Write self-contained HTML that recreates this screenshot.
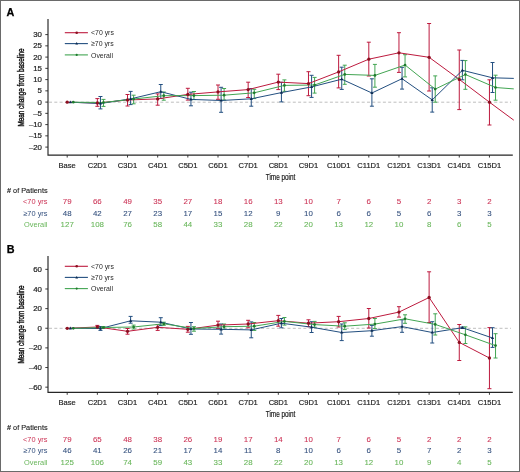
<!DOCTYPE html>
<html><head><meta charset="utf-8"><style>
html,body{margin:0;padding:0;background:#fff;}
body{width:520px;height:472px;overflow:hidden;}
svg{display:block;will-change:transform;}
</style></head><body>
<svg width="520" height="472" viewBox="0 0 520 472">
<rect x="0" y="0" width="520" height="472" fill="#fff"/>
<text x="6.5" y="15.7" font-size="10.8" font-weight="bold" fill="#000" stroke="#000" stroke-width="0.25" font-family="'Liberation Sans', sans-serif">A</text>
<line x1="49" y1="102.2" x2="511" y2="102.2" stroke="#a8a8a8" stroke-width="0.75" stroke-dasharray="3 2.3"/>
<path d="M48 19.1V155.15H512.8" stroke="#262626" stroke-width="1.15" fill="none"/>
<line x1="45.3" y1="34.6" x2="48" y2="34.6" stroke="#262626" stroke-width="0.9"/>
<text x="0" y="0" font-size="7.5" text-anchor="end" fill="#222" stroke="#222" stroke-width="0.2" font-family="'Liberation Sans', sans-serif" transform="translate(42 37.2) scale(1.05 1)">30</text>
<line x1="45.3" y1="45.85" x2="48" y2="45.85" stroke="#262626" stroke-width="0.9"/>
<text x="0" y="0" font-size="7.5" text-anchor="end" fill="#222" stroke="#222" stroke-width="0.2" font-family="'Liberation Sans', sans-serif" transform="translate(42 48.45) scale(1.05 1)">25</text>
<line x1="45.3" y1="57.1" x2="48" y2="57.1" stroke="#262626" stroke-width="0.9"/>
<text x="0" y="0" font-size="7.5" text-anchor="end" fill="#222" stroke="#222" stroke-width="0.2" font-family="'Liberation Sans', sans-serif" transform="translate(42 59.7) scale(1.05 1)">20</text>
<line x1="45.3" y1="68.35" x2="48" y2="68.35" stroke="#262626" stroke-width="0.9"/>
<text x="0" y="0" font-size="7.5" text-anchor="end" fill="#222" stroke="#222" stroke-width="0.2" font-family="'Liberation Sans', sans-serif" transform="translate(42 70.95) scale(1.05 1)">15</text>
<line x1="45.3" y1="79.6" x2="48" y2="79.6" stroke="#262626" stroke-width="0.9"/>
<text x="0" y="0" font-size="7.5" text-anchor="end" fill="#222" stroke="#222" stroke-width="0.2" font-family="'Liberation Sans', sans-serif" transform="translate(42 82.2) scale(1.05 1)">10</text>
<line x1="45.3" y1="90.85" x2="48" y2="90.85" stroke="#262626" stroke-width="0.9"/>
<text x="0" y="0" font-size="7.5" text-anchor="end" fill="#222" stroke="#222" stroke-width="0.2" font-family="'Liberation Sans', sans-serif" transform="translate(42 93.45) scale(1.05 1)">5</text>
<line x1="45.3" y1="102.1" x2="48" y2="102.1" stroke="#262626" stroke-width="0.9"/>
<text x="0" y="0" font-size="7.5" text-anchor="end" fill="#222" stroke="#222" stroke-width="0.2" font-family="'Liberation Sans', sans-serif" transform="translate(42 104.7) scale(1.05 1)">0</text>
<line x1="45.3" y1="113.35" x2="48" y2="113.35" stroke="#262626" stroke-width="0.9"/>
<text x="0" y="0" font-size="7.5" text-anchor="end" fill="#222" stroke="#222" stroke-width="0.2" font-family="'Liberation Sans', sans-serif" transform="translate(42 115.95) scale(1.05 1)">–5</text>
<line x1="45.3" y1="124.6" x2="48" y2="124.6" stroke="#262626" stroke-width="0.9"/>
<text x="0" y="0" font-size="7.5" text-anchor="end" fill="#222" stroke="#222" stroke-width="0.2" font-family="'Liberation Sans', sans-serif" transform="translate(42 127.2) scale(1.05 1)">–10</text>
<line x1="45.3" y1="135.85" x2="48" y2="135.85" stroke="#262626" stroke-width="0.9"/>
<text x="0" y="0" font-size="7.5" text-anchor="end" fill="#222" stroke="#222" stroke-width="0.2" font-family="'Liberation Sans', sans-serif" transform="translate(42 138.45) scale(1.05 1)">–15</text>
<line x1="45.3" y1="147.1" x2="48" y2="147.1" stroke="#262626" stroke-width="0.9"/>
<text x="0" y="0" font-size="7.5" text-anchor="end" fill="#222" stroke="#222" stroke-width="0.2" font-family="'Liberation Sans', sans-serif" transform="translate(42 149.7) scale(1.05 1)">–20</text>
<line x1="67.2" y1="155.15" x2="67.2" y2="157.55" stroke="#262626" stroke-width="0.9"/>
<text x="0" y="0" font-size="7.8" text-anchor="middle" fill="#222" stroke="#222" stroke-width="0.18" font-family="'Liberation Sans', sans-serif" transform="translate(67.2 167.5) scale(0.97 1)">Base</text>
<line x1="97.36" y1="155.15" x2="97.36" y2="157.55" stroke="#262626" stroke-width="0.9"/>
<text x="0" y="0" font-size="7.8" text-anchor="middle" fill="#222" stroke="#222" stroke-width="0.18" font-family="'Liberation Sans', sans-serif" transform="translate(97.36 167.5) scale(0.97 1)">C2D1</text>
<line x1="127.52" y1="155.15" x2="127.52" y2="157.55" stroke="#262626" stroke-width="0.9"/>
<text x="0" y="0" font-size="7.8" text-anchor="middle" fill="#222" stroke="#222" stroke-width="0.18" font-family="'Liberation Sans', sans-serif" transform="translate(127.52 167.5) scale(0.97 1)">C3D1</text>
<line x1="157.68" y1="155.15" x2="157.68" y2="157.55" stroke="#262626" stroke-width="0.9"/>
<text x="0" y="0" font-size="7.8" text-anchor="middle" fill="#222" stroke="#222" stroke-width="0.18" font-family="'Liberation Sans', sans-serif" transform="translate(157.68 167.5) scale(0.97 1)">C4D1</text>
<line x1="187.84" y1="155.15" x2="187.84" y2="157.55" stroke="#262626" stroke-width="0.9"/>
<text x="0" y="0" font-size="7.8" text-anchor="middle" fill="#222" stroke="#222" stroke-width="0.18" font-family="'Liberation Sans', sans-serif" transform="translate(187.84 167.5) scale(0.97 1)">C5D1</text>
<line x1="218" y1="155.15" x2="218" y2="157.55" stroke="#262626" stroke-width="0.9"/>
<text x="0" y="0" font-size="7.8" text-anchor="middle" fill="#222" stroke="#222" stroke-width="0.18" font-family="'Liberation Sans', sans-serif" transform="translate(218 167.5) scale(0.97 1)">C6D1</text>
<line x1="248.16" y1="155.15" x2="248.16" y2="157.55" stroke="#262626" stroke-width="0.9"/>
<text x="0" y="0" font-size="7.8" text-anchor="middle" fill="#222" stroke="#222" stroke-width="0.18" font-family="'Liberation Sans', sans-serif" transform="translate(248.16 167.5) scale(0.97 1)">C7D1</text>
<line x1="278.32" y1="155.15" x2="278.32" y2="157.55" stroke="#262626" stroke-width="0.9"/>
<text x="0" y="0" font-size="7.8" text-anchor="middle" fill="#222" stroke="#222" stroke-width="0.18" font-family="'Liberation Sans', sans-serif" transform="translate(278.32 167.5) scale(0.97 1)">C8D1</text>
<line x1="308.48" y1="155.15" x2="308.48" y2="157.55" stroke="#262626" stroke-width="0.9"/>
<text x="0" y="0" font-size="7.8" text-anchor="middle" fill="#222" stroke="#222" stroke-width="0.18" font-family="'Liberation Sans', sans-serif" transform="translate(308.48 167.5) scale(0.97 1)">C9D1</text>
<line x1="338.64" y1="155.15" x2="338.64" y2="157.55" stroke="#262626" stroke-width="0.9"/>
<text x="0" y="0" font-size="7.8" text-anchor="middle" fill="#222" stroke="#222" stroke-width="0.18" font-family="'Liberation Sans', sans-serif" transform="translate(338.64 167.5) scale(0.97 1)">C10D1</text>
<line x1="368.8" y1="155.15" x2="368.8" y2="157.55" stroke="#262626" stroke-width="0.9"/>
<text x="0" y="0" font-size="7.8" text-anchor="middle" fill="#222" stroke="#222" stroke-width="0.18" font-family="'Liberation Sans', sans-serif" transform="translate(368.8 167.5) scale(0.97 1)">C11D1</text>
<line x1="398.96" y1="155.15" x2="398.96" y2="157.55" stroke="#262626" stroke-width="0.9"/>
<text x="0" y="0" font-size="7.8" text-anchor="middle" fill="#222" stroke="#222" stroke-width="0.18" font-family="'Liberation Sans', sans-serif" transform="translate(398.96 167.5) scale(0.97 1)">C12D1</text>
<line x1="429.12" y1="155.15" x2="429.12" y2="157.55" stroke="#262626" stroke-width="0.9"/>
<text x="0" y="0" font-size="7.8" text-anchor="middle" fill="#222" stroke="#222" stroke-width="0.18" font-family="'Liberation Sans', sans-serif" transform="translate(429.12 167.5) scale(0.97 1)">C13D1</text>
<line x1="459.28" y1="155.15" x2="459.28" y2="157.55" stroke="#262626" stroke-width="0.9"/>
<text x="0" y="0" font-size="7.8" text-anchor="middle" fill="#222" stroke="#222" stroke-width="0.18" font-family="'Liberation Sans', sans-serif" transform="translate(459.28 167.5) scale(0.97 1)">C14D1</text>
<line x1="489.44" y1="155.15" x2="489.44" y2="157.55" stroke="#262626" stroke-width="0.9"/>
<text x="0" y="0" font-size="7.8" text-anchor="middle" fill="#222" stroke="#222" stroke-width="0.18" font-family="'Liberation Sans', sans-serif" transform="translate(489.44 167.5) scale(0.97 1)">C15D1</text>
<text x="0" y="0" font-size="8.6" text-anchor="middle" fill="#1a1a1a" font-family="'Liberation Sans', sans-serif" stroke="#1a1a1a" stroke-width="0.2" transform="translate(280.5 180.3) scale(0.74 1)">Time point</text>
<text x="0" y="0" font-size="8.3" text-anchor="middle" fill="#111" font-family="'Liberation Sans', sans-serif" stroke="#111" stroke-width="0.4" transform="translate(23.5 87.5) rotate(-90) scale(0.765 1)">Mean change from baseline</text>
<line x1="64.8" y1="32.7" x2="87.9" y2="32.7" stroke="#bd1a3e" stroke-width="1.1"/>
<circle cx="76.7" cy="32.7" r="1.3" fill="#8c0f20"/>
<text x="0" y="0" font-size="7.7" fill="#2a2a2a" font-family="'Liberation Sans', sans-serif" transform="translate(91 35.4) scale(0.9 1)">&lt;70 yrs</text>
<line x1="64.8" y1="43.6" x2="87.9" y2="43.6" stroke="#234f80" stroke-width="1.1"/>
<path d="M76.7 42.1L78.1 44.6L75.3 44.6Z" fill="#0d2c52"/>
<text x="0" y="0" font-size="7.7" fill="#2a2a2a" font-family="'Liberation Sans', sans-serif" transform="translate(91 46.3) scale(0.9 1)">≥70 yrs</text>
<line x1="64.8" y1="54.9" x2="87.9" y2="54.9" stroke="#42a552" stroke-width="1.1"/>
<circle cx="76.7" cy="54.9" r="1.1" fill="#1e7a2c"/>
<text x="0" y="0" font-size="7.7" fill="#2a2a2a" font-family="'Liberation Sans', sans-serif" transform="translate(91 57.6) scale(0.9 1)">Overall</text>
<path d="M97.36 98.6V106.3M95.36 98.6H99.36M95.36 106.3H99.36" stroke="#bd1a3e" stroke-width="1" fill="none"/>
<path d="M127.52 94.5V106M125.52 94.5H129.52M125.52 106H129.52" stroke="#bd1a3e" stroke-width="1" fill="none"/>
<path d="M157.68 93.9V105.2M155.68 93.9H159.68M155.68 105.2H159.68" stroke="#bd1a3e" stroke-width="1" fill="none"/>
<path d="M187.84 88.3V100.1M185.84 88.3H189.84M185.84 100.1H189.84" stroke="#bd1a3e" stroke-width="1" fill="none"/>
<path d="M218 85V99.3M216 85H220M216 99.3H220" stroke="#bd1a3e" stroke-width="1" fill="none"/>
<path d="M248.16 82.2V97.5M246.16 82.2H250.16M246.16 97.5H250.16" stroke="#bd1a3e" stroke-width="1" fill="none"/>
<path d="M278.32 74.2V89.6M276.32 74.2H280.32M276.32 89.6H280.32" stroke="#bd1a3e" stroke-width="1" fill="none"/>
<path d="M308.48 71.7V95.7M306.48 71.7H310.48M306.48 95.7H310.48" stroke="#bd1a3e" stroke-width="1" fill="none"/>
<path d="M338.64 55.3V87.9M336.64 55.3H340.64M336.64 87.9H340.64" stroke="#bd1a3e" stroke-width="1" fill="none"/>
<path d="M368.8 42.2V76M366.8 42.2H370.8M366.8 76H370.8" stroke="#bd1a3e" stroke-width="1" fill="none"/>
<path d="M398.96 32.7V72.4M396.96 32.7H400.96M396.96 72.4H400.96" stroke="#bd1a3e" stroke-width="1" fill="none"/>
<path d="M429.12 23.5V91M427.12 23.5H431.12M427.12 91H431.12" stroke="#bd1a3e" stroke-width="1" fill="none"/>
<path d="M459.28 50V109.6M457.28 50H461.28M457.28 109.6H461.28" stroke="#bd1a3e" stroke-width="1" fill="none"/>
<path d="M489.44 79.8V125M487.44 79.8H491.44M487.44 125H491.44" stroke="#bd1a3e" stroke-width="1" fill="none"/>
<path d="M100.46 96.5V108.9M98.46 96.5H102.46M98.46 108.9H102.46" stroke="#234f80" stroke-width="1" fill="none"/>
<path d="M130.62 91.4V104.6M128.62 91.4H132.62M128.62 104.6H132.62" stroke="#234f80" stroke-width="1" fill="none"/>
<path d="M160.78 84.5V98.5M158.78 84.5H162.78M158.78 98.5H162.78" stroke="#234f80" stroke-width="1" fill="none"/>
<path d="M190.94 92.2V105.8M188.94 92.2H192.94M188.94 105.8H192.94" stroke="#234f80" stroke-width="1" fill="none"/>
<path d="M221.1 87.3V112.3M219.1 87.3H223.1M219.1 112.3H223.1" stroke="#234f80" stroke-width="1" fill="none"/>
<path d="M251.26 88.5V106.2M249.26 88.5H253.26M249.26 106.2H253.26" stroke="#234f80" stroke-width="1" fill="none"/>
<path d="M281.42 82.3V101.9M279.42 82.3H283.42M279.42 101.9H283.42" stroke="#234f80" stroke-width="1" fill="none"/>
<path d="M311.58 75.3V97.4M309.58 75.3H313.58M309.58 97.4H313.58" stroke="#234f80" stroke-width="1" fill="none"/>
<path d="M341.74 67.2V89.4M339.74 67.2H343.74M339.74 89.4H343.74" stroke="#234f80" stroke-width="1" fill="none"/>
<path d="M371.9 78.8V106.2M369.9 78.8H373.9M369.9 106.2H373.9" stroke="#234f80" stroke-width="1" fill="none"/>
<path d="M402.06 67.3V89.1M400.06 67.3H404.06M400.06 89.1H404.06" stroke="#234f80" stroke-width="1" fill="none"/>
<path d="M432.22 87.8V112.1M430.22 87.8H434.22M430.22 112.1H434.22" stroke="#234f80" stroke-width="1" fill="none"/>
<path d="M462.38 60.4V79.8M460.38 60.4H464.38M460.38 79.8H464.38" stroke="#234f80" stroke-width="1" fill="none"/>
<path d="M492.54 62.5V92.5M490.54 62.5H494.54M490.54 92.5H494.54" stroke="#234f80" stroke-width="1" fill="none"/>
<path d="M103.46 99.4V106.4M101.46 99.4H105.46M101.46 106.4H105.46" stroke="#42a552" stroke-width="1" fill="none"/>
<path d="M133.62 95.2V103.8M131.62 95.2H135.62M131.62 103.8H135.62" stroke="#42a552" stroke-width="1" fill="none"/>
<path d="M163.78 92V100.2M161.78 92H165.78M161.78 100.2H165.78" stroke="#42a552" stroke-width="1" fill="none"/>
<path d="M193.94 91.5V99.6M191.94 91.5H195.94M191.94 99.6H195.94" stroke="#42a552" stroke-width="1" fill="none"/>
<path d="M224.1 88.5V100M222.1 88.5H226.1M222.1 100H226.1" stroke="#42a552" stroke-width="1" fill="none"/>
<path d="M254.26 89.3V98.6M252.26 89.3H256.26M252.26 98.6H256.26" stroke="#42a552" stroke-width="1" fill="none"/>
<path d="M284.42 79.9V91.3M282.42 79.9H286.42M282.42 91.3H286.42" stroke="#42a552" stroke-width="1" fill="none"/>
<path d="M314.58 77.4V93.1M312.58 77.4H316.58M312.58 93.1H316.58" stroke="#42a552" stroke-width="1" fill="none"/>
<path d="M344.74 65.2V84.3M342.74 65.2H346.74M342.74 84.3H346.74" stroke="#42a552" stroke-width="1" fill="none"/>
<path d="M374.9 64.4V87.2M372.9 64.4H376.9M372.9 87.2H376.9" stroke="#42a552" stroke-width="1" fill="none"/>
<path d="M405.06 54.7V76.9M403.06 54.7H407.06M403.06 76.9H407.06" stroke="#42a552" stroke-width="1" fill="none"/>
<path d="M435.22 75.9V102.2M433.22 75.9H437.22M433.22 102.2H437.22" stroke="#42a552" stroke-width="1" fill="none"/>
<path d="M465.38 60.6V89.3M463.38 60.6H467.38M463.38 89.3H467.38" stroke="#42a552" stroke-width="1" fill="none"/>
<path d="M495.54 75.2V100.2M493.54 75.2H497.54M493.54 100.2H497.54" stroke="#42a552" stroke-width="1" fill="none"/>
<path d="M67.2 102.2 L97.36 103 L127.52 100 L157.68 98.9 L187.84 94.4 L218 91.9 L248.16 89.6 L278.32 82.1 L308.48 83.6 L338.64 71.9 L368.8 59.2 L398.96 52.8 L429.12 57.3 L459.28 79.4 L489.44 102.2 L513.8 120.2" stroke="#bd1a3e" stroke-width="1.0" fill="none" stroke-linejoin="round"/>
<path d="M70.3 102.2 L100.46 103.5 L130.62 98.9 L160.78 91.7 L190.94 99.4 L221.1 100.5 L251.26 98.8 L281.42 92.6 L311.58 86.9 L341.74 79.2 L371.9 93 L402.06 78.7 L432.22 99.9 L462.38 70.3 L492.54 77.8 L513.8 78.4" stroke="#234f80" stroke-width="1.0" fill="none" stroke-linejoin="round"/>
<path d="M73.3 102.2 L103.46 102.5 L133.62 99 L163.78 95.7 L193.94 95.6 L224.1 95.2 L254.26 92.8 L284.42 85.4 L314.58 85 L344.74 74.4 L374.9 75.4 L405.06 65 L435.22 89.1 L465.38 74.5 L495.54 87.5 L513.8 88.9" stroke="#42a552" stroke-width="1.0" fill="none" stroke-linejoin="round"/>
<circle cx="67.2" cy="102.2" r="1.65" fill="#8c0f20"/>
<circle cx="97.36" cy="103" r="1.65" fill="#8c0f20"/>
<circle cx="127.52" cy="100" r="1.65" fill="#8c0f20"/>
<circle cx="157.68" cy="98.9" r="1.65" fill="#8c0f20"/>
<circle cx="187.84" cy="94.4" r="1.65" fill="#8c0f20"/>
<circle cx="218" cy="91.9" r="1.65" fill="#8c0f20"/>
<circle cx="248.16" cy="89.6" r="1.65" fill="#8c0f20"/>
<circle cx="278.32" cy="82.1" r="1.65" fill="#8c0f20"/>
<circle cx="308.48" cy="83.6" r="1.65" fill="#8c0f20"/>
<circle cx="338.64" cy="71.9" r="1.65" fill="#8c0f20"/>
<circle cx="368.8" cy="59.2" r="1.65" fill="#8c0f20"/>
<circle cx="398.96" cy="52.8" r="1.65" fill="#8c0f20"/>
<circle cx="429.12" cy="57.3" r="1.65" fill="#8c0f20"/>
<circle cx="459.28" cy="79.4" r="1.65" fill="#8c0f20"/>
<circle cx="489.44" cy="102.2" r="1.65" fill="#8c0f20"/>
<path d="M70.3 100.5L71.9 103.3L68.7 103.3Z" fill="#0d2c52"/>
<path d="M100.46 101.8L102.06 104.6L98.86 104.6Z" fill="#0d2c52"/>
<path d="M130.62 97.2L132.22 100L129.02 100Z" fill="#0d2c52"/>
<path d="M160.78 90L162.38 92.8L159.18 92.8Z" fill="#0d2c52"/>
<path d="M190.94 97.7L192.54 100.5L189.34 100.5Z" fill="#0d2c52"/>
<path d="M221.1 98.8L222.7 101.6L219.5 101.6Z" fill="#0d2c52"/>
<path d="M251.26 97.1L252.86 99.9L249.66 99.9Z" fill="#0d2c52"/>
<path d="M281.42 90.9L283.02 93.7L279.82 93.7Z" fill="#0d2c52"/>
<path d="M311.58 85.2L313.18 88L309.98 88Z" fill="#0d2c52"/>
<path d="M341.74 77.5L343.34 80.3L340.14 80.3Z" fill="#0d2c52"/>
<path d="M371.9 91.3L373.5 94.1L370.3 94.1Z" fill="#0d2c52"/>
<path d="M402.06 77L403.66 79.8L400.46 79.8Z" fill="#0d2c52"/>
<path d="M432.22 98.2L433.82 101L430.62 101Z" fill="#0d2c52"/>
<path d="M462.38 68.6L463.98 71.4L460.78 71.4Z" fill="#0d2c52"/>
<path d="M492.54 76.1L494.14 78.9L490.94 78.9Z" fill="#0d2c52"/>
<circle cx="73.3" cy="102.2" r="1.35" fill="#1e7a2c"/>
<circle cx="103.46" cy="102.5" r="1.35" fill="#1e7a2c"/>
<circle cx="133.62" cy="99" r="1.35" fill="#1e7a2c"/>
<circle cx="163.78" cy="95.7" r="1.35" fill="#1e7a2c"/>
<circle cx="193.94" cy="95.6" r="1.35" fill="#1e7a2c"/>
<circle cx="224.1" cy="95.2" r="1.35" fill="#1e7a2c"/>
<circle cx="254.26" cy="92.8" r="1.35" fill="#1e7a2c"/>
<circle cx="284.42" cy="85.4" r="1.35" fill="#1e7a2c"/>
<circle cx="314.58" cy="85" r="1.35" fill="#1e7a2c"/>
<circle cx="344.74" cy="74.4" r="1.35" fill="#1e7a2c"/>
<circle cx="374.9" cy="75.4" r="1.35" fill="#1e7a2c"/>
<circle cx="405.06" cy="65" r="1.35" fill="#1e7a2c"/>
<circle cx="435.22" cy="89.1" r="1.35" fill="#1e7a2c"/>
<circle cx="465.38" cy="74.5" r="1.35" fill="#1e7a2c"/>
<circle cx="495.54" cy="87.5" r="1.35" fill="#1e7a2c"/>
<text x="7" y="192.6" font-size="7.3" fill="#222" stroke="#222" stroke-width="0.12" font-family="'Liberation Sans', sans-serif"><tspan font-weight="bold">#</tspan>&#160;of Patients</text>
<text x="47.5" y="204.4" font-size="7.4" text-anchor="end" fill="#cc3456" font-family="'Liberation Sans', sans-serif">&lt;70 yrs</text>
<text x="67.2" y="204.4" font-size="7.9" text-anchor="middle" fill="#cc3456" stroke="#cc3456" stroke-width="0.08" font-family="'Liberation Sans', sans-serif">79</text>
<text x="97.36" y="204.4" font-size="7.9" text-anchor="middle" fill="#cc3456" stroke="#cc3456" stroke-width="0.08" font-family="'Liberation Sans', sans-serif">66</text>
<text x="127.52" y="204.4" font-size="7.9" text-anchor="middle" fill="#cc3456" stroke="#cc3456" stroke-width="0.08" font-family="'Liberation Sans', sans-serif">49</text>
<text x="157.68" y="204.4" font-size="7.9" text-anchor="middle" fill="#cc3456" stroke="#cc3456" stroke-width="0.08" font-family="'Liberation Sans', sans-serif">35</text>
<text x="187.84" y="204.4" font-size="7.9" text-anchor="middle" fill="#cc3456" stroke="#cc3456" stroke-width="0.08" font-family="'Liberation Sans', sans-serif">27</text>
<text x="218" y="204.4" font-size="7.9" text-anchor="middle" fill="#cc3456" stroke="#cc3456" stroke-width="0.08" font-family="'Liberation Sans', sans-serif">18</text>
<text x="248.16" y="204.4" font-size="7.9" text-anchor="middle" fill="#cc3456" stroke="#cc3456" stroke-width="0.08" font-family="'Liberation Sans', sans-serif">16</text>
<text x="278.32" y="204.4" font-size="7.9" text-anchor="middle" fill="#cc3456" stroke="#cc3456" stroke-width="0.08" font-family="'Liberation Sans', sans-serif">13</text>
<text x="308.48" y="204.4" font-size="7.9" text-anchor="middle" fill="#cc3456" stroke="#cc3456" stroke-width="0.08" font-family="'Liberation Sans', sans-serif">10</text>
<text x="338.64" y="204.4" font-size="7.9" text-anchor="middle" fill="#cc3456" stroke="#cc3456" stroke-width="0.08" font-family="'Liberation Sans', sans-serif">7</text>
<text x="368.8" y="204.4" font-size="7.9" text-anchor="middle" fill="#cc3456" stroke="#cc3456" stroke-width="0.08" font-family="'Liberation Sans', sans-serif">6</text>
<text x="398.96" y="204.4" font-size="7.9" text-anchor="middle" fill="#cc3456" stroke="#cc3456" stroke-width="0.08" font-family="'Liberation Sans', sans-serif">5</text>
<text x="429.12" y="204.4" font-size="7.9" text-anchor="middle" fill="#cc3456" stroke="#cc3456" stroke-width="0.08" font-family="'Liberation Sans', sans-serif">2</text>
<text x="459.28" y="204.4" font-size="7.9" text-anchor="middle" fill="#cc3456" stroke="#cc3456" stroke-width="0.08" font-family="'Liberation Sans', sans-serif">3</text>
<text x="489.44" y="204.4" font-size="7.9" text-anchor="middle" fill="#cc3456" stroke="#cc3456" stroke-width="0.08" font-family="'Liberation Sans', sans-serif">2</text>
<text x="47.5" y="215.8" font-size="7.4" text-anchor="end" fill="#34507e" font-family="'Liberation Sans', sans-serif">≥70 yrs</text>
<text x="67.2" y="215.8" font-size="7.9" text-anchor="middle" fill="#34507e" stroke="#34507e" stroke-width="0.08" font-family="'Liberation Sans', sans-serif">48</text>
<text x="97.36" y="215.8" font-size="7.9" text-anchor="middle" fill="#34507e" stroke="#34507e" stroke-width="0.08" font-family="'Liberation Sans', sans-serif">42</text>
<text x="127.52" y="215.8" font-size="7.9" text-anchor="middle" fill="#34507e" stroke="#34507e" stroke-width="0.08" font-family="'Liberation Sans', sans-serif">27</text>
<text x="157.68" y="215.8" font-size="7.9" text-anchor="middle" fill="#34507e" stroke="#34507e" stroke-width="0.08" font-family="'Liberation Sans', sans-serif">23</text>
<text x="187.84" y="215.8" font-size="7.9" text-anchor="middle" fill="#34507e" stroke="#34507e" stroke-width="0.08" font-family="'Liberation Sans', sans-serif">17</text>
<text x="218" y="215.8" font-size="7.9" text-anchor="middle" fill="#34507e" stroke="#34507e" stroke-width="0.08" font-family="'Liberation Sans', sans-serif">15</text>
<text x="248.16" y="215.8" font-size="7.9" text-anchor="middle" fill="#34507e" stroke="#34507e" stroke-width="0.08" font-family="'Liberation Sans', sans-serif">12</text>
<text x="278.32" y="215.8" font-size="7.9" text-anchor="middle" fill="#34507e" stroke="#34507e" stroke-width="0.08" font-family="'Liberation Sans', sans-serif">9</text>
<text x="308.48" y="215.8" font-size="7.9" text-anchor="middle" fill="#34507e" stroke="#34507e" stroke-width="0.08" font-family="'Liberation Sans', sans-serif">10</text>
<text x="338.64" y="215.8" font-size="7.9" text-anchor="middle" fill="#34507e" stroke="#34507e" stroke-width="0.08" font-family="'Liberation Sans', sans-serif">6</text>
<text x="368.8" y="215.8" font-size="7.9" text-anchor="middle" fill="#34507e" stroke="#34507e" stroke-width="0.08" font-family="'Liberation Sans', sans-serif">6</text>
<text x="398.96" y="215.8" font-size="7.9" text-anchor="middle" fill="#34507e" stroke="#34507e" stroke-width="0.08" font-family="'Liberation Sans', sans-serif">5</text>
<text x="429.12" y="215.8" font-size="7.9" text-anchor="middle" fill="#34507e" stroke="#34507e" stroke-width="0.08" font-family="'Liberation Sans', sans-serif">6</text>
<text x="459.28" y="215.8" font-size="7.9" text-anchor="middle" fill="#34507e" stroke="#34507e" stroke-width="0.08" font-family="'Liberation Sans', sans-serif">3</text>
<text x="489.44" y="215.8" font-size="7.9" text-anchor="middle" fill="#34507e" stroke="#34507e" stroke-width="0.08" font-family="'Liberation Sans', sans-serif">3</text>
<text x="47.5" y="227.2" font-size="7.4" text-anchor="end" fill="#68b65a" font-family="'Liberation Sans', sans-serif">Overall</text>
<text x="67.2" y="227.2" font-size="7.9" text-anchor="middle" fill="#68b65a" stroke="#68b65a" stroke-width="0.08" font-family="'Liberation Sans', sans-serif">127</text>
<text x="97.36" y="227.2" font-size="7.9" text-anchor="middle" fill="#68b65a" stroke="#68b65a" stroke-width="0.08" font-family="'Liberation Sans', sans-serif">108</text>
<text x="127.52" y="227.2" font-size="7.9" text-anchor="middle" fill="#68b65a" stroke="#68b65a" stroke-width="0.08" font-family="'Liberation Sans', sans-serif">76</text>
<text x="157.68" y="227.2" font-size="7.9" text-anchor="middle" fill="#68b65a" stroke="#68b65a" stroke-width="0.08" font-family="'Liberation Sans', sans-serif">58</text>
<text x="187.84" y="227.2" font-size="7.9" text-anchor="middle" fill="#68b65a" stroke="#68b65a" stroke-width="0.08" font-family="'Liberation Sans', sans-serif">44</text>
<text x="218" y="227.2" font-size="7.9" text-anchor="middle" fill="#68b65a" stroke="#68b65a" stroke-width="0.08" font-family="'Liberation Sans', sans-serif">33</text>
<text x="248.16" y="227.2" font-size="7.9" text-anchor="middle" fill="#68b65a" stroke="#68b65a" stroke-width="0.08" font-family="'Liberation Sans', sans-serif">28</text>
<text x="278.32" y="227.2" font-size="7.9" text-anchor="middle" fill="#68b65a" stroke="#68b65a" stroke-width="0.08" font-family="'Liberation Sans', sans-serif">22</text>
<text x="308.48" y="227.2" font-size="7.9" text-anchor="middle" fill="#68b65a" stroke="#68b65a" stroke-width="0.08" font-family="'Liberation Sans', sans-serif">20</text>
<text x="338.64" y="227.2" font-size="7.9" text-anchor="middle" fill="#68b65a" stroke="#68b65a" stroke-width="0.08" font-family="'Liberation Sans', sans-serif">13</text>
<text x="368.8" y="227.2" font-size="7.9" text-anchor="middle" fill="#68b65a" stroke="#68b65a" stroke-width="0.08" font-family="'Liberation Sans', sans-serif">12</text>
<text x="398.96" y="227.2" font-size="7.9" text-anchor="middle" fill="#68b65a" stroke="#68b65a" stroke-width="0.08" font-family="'Liberation Sans', sans-serif">10</text>
<text x="429.12" y="227.2" font-size="7.9" text-anchor="middle" fill="#68b65a" stroke="#68b65a" stroke-width="0.08" font-family="'Liberation Sans', sans-serif">8</text>
<text x="459.28" y="227.2" font-size="7.9" text-anchor="middle" fill="#68b65a" stroke="#68b65a" stroke-width="0.08" font-family="'Liberation Sans', sans-serif">6</text>
<text x="489.44" y="227.2" font-size="7.9" text-anchor="middle" fill="#68b65a" stroke="#68b65a" stroke-width="0.08" font-family="'Liberation Sans', sans-serif">5</text>
<text x="6.8" y="253" font-size="10.8" font-weight="bold" fill="#000" stroke="#000" stroke-width="0.25" font-family="'Liberation Sans', sans-serif">B</text>
<line x1="49" y1="328.3" x2="511" y2="328.3" stroke="#a8a8a8" stroke-width="0.75" stroke-dasharray="3 2.3"/>
<path d="M48 256.1V392.4H512.8" stroke="#262626" stroke-width="1.15" fill="none"/>
<line x1="45.3" y1="269.33" x2="48" y2="269.33" stroke="#262626" stroke-width="0.9"/>
<text x="0" y="0" font-size="7.5" text-anchor="end" fill="#222" stroke="#222" stroke-width="0.2" font-family="'Liberation Sans', sans-serif" transform="translate(42 271.93) scale(1.05 1)">60</text>
<line x1="45.3" y1="288.97" x2="48" y2="288.97" stroke="#262626" stroke-width="0.9"/>
<text x="0" y="0" font-size="7.5" text-anchor="end" fill="#222" stroke="#222" stroke-width="0.2" font-family="'Liberation Sans', sans-serif" transform="translate(42 291.57) scale(1.05 1)">40</text>
<line x1="45.3" y1="308.61" x2="48" y2="308.61" stroke="#262626" stroke-width="0.9"/>
<text x="0" y="0" font-size="7.5" text-anchor="end" fill="#222" stroke="#222" stroke-width="0.2" font-family="'Liberation Sans', sans-serif" transform="translate(42 311.21) scale(1.05 1)">20</text>
<line x1="45.3" y1="328.25" x2="48" y2="328.25" stroke="#262626" stroke-width="0.9"/>
<text x="0" y="0" font-size="7.5" text-anchor="end" fill="#222" stroke="#222" stroke-width="0.2" font-family="'Liberation Sans', sans-serif" transform="translate(42 330.85) scale(1.05 1)">0</text>
<line x1="45.3" y1="347.89" x2="48" y2="347.89" stroke="#262626" stroke-width="0.9"/>
<text x="0" y="0" font-size="7.5" text-anchor="end" fill="#222" stroke="#222" stroke-width="0.2" font-family="'Liberation Sans', sans-serif" transform="translate(42 350.49) scale(1.05 1)">–20</text>
<line x1="45.3" y1="367.53" x2="48" y2="367.53" stroke="#262626" stroke-width="0.9"/>
<text x="0" y="0" font-size="7.5" text-anchor="end" fill="#222" stroke="#222" stroke-width="0.2" font-family="'Liberation Sans', sans-serif" transform="translate(42 370.13) scale(1.05 1)">–40</text>
<line x1="45.3" y1="387.17" x2="48" y2="387.17" stroke="#262626" stroke-width="0.9"/>
<text x="0" y="0" font-size="7.5" text-anchor="end" fill="#222" stroke="#222" stroke-width="0.2" font-family="'Liberation Sans', sans-serif" transform="translate(42 389.77) scale(1.05 1)">–60</text>
<line x1="67.2" y1="392.4" x2="67.2" y2="394.8" stroke="#262626" stroke-width="0.9"/>
<text x="0" y="0" font-size="7.8" text-anchor="middle" fill="#222" stroke="#222" stroke-width="0.18" font-family="'Liberation Sans', sans-serif" transform="translate(67.2 404.5) scale(0.97 1)">Base</text>
<line x1="97.36" y1="392.4" x2="97.36" y2="394.8" stroke="#262626" stroke-width="0.9"/>
<text x="0" y="0" font-size="7.8" text-anchor="middle" fill="#222" stroke="#222" stroke-width="0.18" font-family="'Liberation Sans', sans-serif" transform="translate(97.36 404.5) scale(0.97 1)">C2D1</text>
<line x1="127.52" y1="392.4" x2="127.52" y2="394.8" stroke="#262626" stroke-width="0.9"/>
<text x="0" y="0" font-size="7.8" text-anchor="middle" fill="#222" stroke="#222" stroke-width="0.18" font-family="'Liberation Sans', sans-serif" transform="translate(127.52 404.5) scale(0.97 1)">C3D1</text>
<line x1="157.68" y1="392.4" x2="157.68" y2="394.8" stroke="#262626" stroke-width="0.9"/>
<text x="0" y="0" font-size="7.8" text-anchor="middle" fill="#222" stroke="#222" stroke-width="0.18" font-family="'Liberation Sans', sans-serif" transform="translate(157.68 404.5) scale(0.97 1)">C4D1</text>
<line x1="187.84" y1="392.4" x2="187.84" y2="394.8" stroke="#262626" stroke-width="0.9"/>
<text x="0" y="0" font-size="7.8" text-anchor="middle" fill="#222" stroke="#222" stroke-width="0.18" font-family="'Liberation Sans', sans-serif" transform="translate(187.84 404.5) scale(0.97 1)">C5D1</text>
<line x1="218" y1="392.4" x2="218" y2="394.8" stroke="#262626" stroke-width="0.9"/>
<text x="0" y="0" font-size="7.8" text-anchor="middle" fill="#222" stroke="#222" stroke-width="0.18" font-family="'Liberation Sans', sans-serif" transform="translate(218 404.5) scale(0.97 1)">C6D1</text>
<line x1="248.16" y1="392.4" x2="248.16" y2="394.8" stroke="#262626" stroke-width="0.9"/>
<text x="0" y="0" font-size="7.8" text-anchor="middle" fill="#222" stroke="#222" stroke-width="0.18" font-family="'Liberation Sans', sans-serif" transform="translate(248.16 404.5) scale(0.97 1)">C7D1</text>
<line x1="278.32" y1="392.4" x2="278.32" y2="394.8" stroke="#262626" stroke-width="0.9"/>
<text x="0" y="0" font-size="7.8" text-anchor="middle" fill="#222" stroke="#222" stroke-width="0.18" font-family="'Liberation Sans', sans-serif" transform="translate(278.32 404.5) scale(0.97 1)">C8D1</text>
<line x1="308.48" y1="392.4" x2="308.48" y2="394.8" stroke="#262626" stroke-width="0.9"/>
<text x="0" y="0" font-size="7.8" text-anchor="middle" fill="#222" stroke="#222" stroke-width="0.18" font-family="'Liberation Sans', sans-serif" transform="translate(308.48 404.5) scale(0.97 1)">C9D1</text>
<line x1="338.64" y1="392.4" x2="338.64" y2="394.8" stroke="#262626" stroke-width="0.9"/>
<text x="0" y="0" font-size="7.8" text-anchor="middle" fill="#222" stroke="#222" stroke-width="0.18" font-family="'Liberation Sans', sans-serif" transform="translate(338.64 404.5) scale(0.97 1)">C10D1</text>
<line x1="368.8" y1="392.4" x2="368.8" y2="394.8" stroke="#262626" stroke-width="0.9"/>
<text x="0" y="0" font-size="7.8" text-anchor="middle" fill="#222" stroke="#222" stroke-width="0.18" font-family="'Liberation Sans', sans-serif" transform="translate(368.8 404.5) scale(0.97 1)">C11D1</text>
<line x1="398.96" y1="392.4" x2="398.96" y2="394.8" stroke="#262626" stroke-width="0.9"/>
<text x="0" y="0" font-size="7.8" text-anchor="middle" fill="#222" stroke="#222" stroke-width="0.18" font-family="'Liberation Sans', sans-serif" transform="translate(398.96 404.5) scale(0.97 1)">C12D1</text>
<line x1="429.12" y1="392.4" x2="429.12" y2="394.8" stroke="#262626" stroke-width="0.9"/>
<text x="0" y="0" font-size="7.8" text-anchor="middle" fill="#222" stroke="#222" stroke-width="0.18" font-family="'Liberation Sans', sans-serif" transform="translate(429.12 404.5) scale(0.97 1)">C13D1</text>
<line x1="459.28" y1="392.4" x2="459.28" y2="394.8" stroke="#262626" stroke-width="0.9"/>
<text x="0" y="0" font-size="7.8" text-anchor="middle" fill="#222" stroke="#222" stroke-width="0.18" font-family="'Liberation Sans', sans-serif" transform="translate(459.28 404.5) scale(0.97 1)">C14D1</text>
<line x1="489.44" y1="392.4" x2="489.44" y2="394.8" stroke="#262626" stroke-width="0.9"/>
<text x="0" y="0" font-size="7.8" text-anchor="middle" fill="#222" stroke="#222" stroke-width="0.18" font-family="'Liberation Sans', sans-serif" transform="translate(489.44 404.5) scale(0.97 1)">C15D1</text>
<text x="0" y="0" font-size="8.6" text-anchor="middle" fill="#1a1a1a" font-family="'Liberation Sans', sans-serif" stroke="#1a1a1a" stroke-width="0.2" transform="translate(280.5 417.3) scale(0.74 1)">Time point</text>
<text x="0" y="0" font-size="8.3" text-anchor="middle" fill="#111" font-family="'Liberation Sans', sans-serif" stroke="#111" stroke-width="0.4" transform="translate(23.5 324.5) rotate(-90) scale(0.765 1)">Mean change from baseline</text>
<line x1="64.8" y1="266.3" x2="87.9" y2="266.3" stroke="#bd1a3e" stroke-width="1.1"/>
<circle cx="76.7" cy="266.3" r="1.3" fill="#8c0f20"/>
<text x="0" y="0" font-size="7.7" fill="#2a2a2a" font-family="'Liberation Sans', sans-serif" transform="translate(91 269) scale(0.9 1)">&lt;70 yrs</text>
<line x1="64.8" y1="277.4" x2="87.9" y2="277.4" stroke="#234f80" stroke-width="1.1"/>
<path d="M76.7 275.9L78.1 278.4L75.3 278.4Z" fill="#0d2c52"/>
<text x="0" y="0" font-size="7.7" fill="#2a2a2a" font-family="'Liberation Sans', sans-serif" transform="translate(91 280.1) scale(0.9 1)">≥70 yrs</text>
<line x1="64.8" y1="288.6" x2="87.9" y2="288.6" stroke="#42a552" stroke-width="1.1"/>
<circle cx="76.7" cy="288.6" r="1.1" fill="#1e7a2c"/>
<text x="0" y="0" font-size="7.7" fill="#2a2a2a" font-family="'Liberation Sans', sans-serif" transform="translate(91 291.3) scale(0.9 1)">Overall</text>
<path d="M97.36 325.4V328.5M95.36 325.4H99.36M95.36 328.5H99.36" stroke="#bd1a3e" stroke-width="1" fill="none"/>
<path d="M127.52 328.5V334.2M125.52 328.5H129.52M125.52 334.2H129.52" stroke="#bd1a3e" stroke-width="1" fill="none"/>
<path d="M157.68 324.7V330.4M155.68 324.7H159.68M155.68 330.4H159.68" stroke="#bd1a3e" stroke-width="1" fill="none"/>
<path d="M187.84 326.4V332.2M185.84 326.4H189.84M185.84 332.2H189.84" stroke="#bd1a3e" stroke-width="1" fill="none"/>
<path d="M218 321.2V328.4M216 321.2H220M216 328.4H220" stroke="#bd1a3e" stroke-width="1" fill="none"/>
<path d="M248.16 320.3V327.8M246.16 320.3H250.16M246.16 327.8H250.16" stroke="#bd1a3e" stroke-width="1" fill="none"/>
<path d="M278.32 315.4V326.2M276.32 315.4H280.32M276.32 326.2H280.32" stroke="#bd1a3e" stroke-width="1" fill="none"/>
<path d="M308.48 319.8V326.7M306.48 319.8H310.48M306.48 326.7H310.48" stroke="#bd1a3e" stroke-width="1" fill="none"/>
<path d="M338.64 316.4V327M336.64 316.4H340.64M336.64 327H340.64" stroke="#bd1a3e" stroke-width="1" fill="none"/>
<path d="M368.8 308.5V328M366.8 308.5H370.8M366.8 328H370.8" stroke="#bd1a3e" stroke-width="1" fill="none"/>
<path d="M398.96 306.7V317.1M396.96 306.7H400.96M396.96 317.1H400.96" stroke="#bd1a3e" stroke-width="1" fill="none"/>
<path d="M429.12 271.8V322.5M427.12 271.8H431.12M427.12 322.5H431.12" stroke="#bd1a3e" stroke-width="1" fill="none"/>
<path d="M459.28 324.5V360.5M457.28 324.5H461.28M457.28 360.5H461.28" stroke="#bd1a3e" stroke-width="1" fill="none"/>
<path d="M489.44 327.6V388.7M487.44 327.6H491.44M487.44 388.7H491.44" stroke="#bd1a3e" stroke-width="1" fill="none"/>
<path d="M100.46 326.5V330.4M98.46 326.5H102.46M98.46 330.4H102.46" stroke="#234f80" stroke-width="1" fill="none"/>
<path d="M130.62 316.4V323.2M128.62 316.4H132.62M128.62 323.2H132.62" stroke="#234f80" stroke-width="1" fill="none"/>
<path d="M160.78 317.7V325.6M158.78 317.7H162.78M158.78 325.6H162.78" stroke="#234f80" stroke-width="1" fill="none"/>
<path d="M190.94 322.5V334.3M188.94 322.5H192.94M188.94 334.3H192.94" stroke="#234f80" stroke-width="1" fill="none"/>
<path d="M221.1 324V334.1M219.1 324H223.1M219.1 334.1H223.1" stroke="#234f80" stroke-width="1" fill="none"/>
<path d="M251.26 321.9V337.8M249.26 321.9H253.26M249.26 337.8H253.26" stroke="#234f80" stroke-width="1" fill="none"/>
<path d="M281.42 318.5V327.8M279.42 318.5H283.42M279.42 327.8H283.42" stroke="#234f80" stroke-width="1" fill="none"/>
<path d="M311.58 321.7V332.5M309.58 321.7H313.58M309.58 332.5H313.58" stroke="#234f80" stroke-width="1" fill="none"/>
<path d="M341.74 324V340.6M339.74 324H343.74M339.74 340.6H343.74" stroke="#234f80" stroke-width="1" fill="none"/>
<path d="M371.9 325.4V336.2M369.9 325.4H373.9M369.9 336.2H373.9" stroke="#234f80" stroke-width="1" fill="none"/>
<path d="M402.06 319.8V332.3M400.06 319.8H404.06M400.06 332.3H404.06" stroke="#234f80" stroke-width="1" fill="none"/>
<path d="M432.22 321.7V343M430.22 321.7H434.22M430.22 343H434.22" stroke="#234f80" stroke-width="1" fill="none"/>
<path d="M462.38 327V328.5M460.38 327H464.38M460.38 328.5H464.38" stroke="#234f80" stroke-width="1" fill="none"/>
<path d="M492.54 327.7V347.4M490.54 327.7H494.54M490.54 347.4H494.54" stroke="#234f80" stroke-width="1" fill="none"/>
<path d="M103.46 326.5V328.5M101.46 326.5H105.46M101.46 328.5H105.46" stroke="#42a552" stroke-width="1" fill="none"/>
<path d="M133.62 325.1V329M131.62 325.1H135.62M131.62 329H135.62" stroke="#42a552" stroke-width="1" fill="none"/>
<path d="M163.78 322.2V325.3M161.78 322.2H165.78M161.78 325.3H165.78" stroke="#42a552" stroke-width="1" fill="none"/>
<path d="M193.94 326.7V331.2M191.94 326.7H195.94M191.94 331.2H195.94" stroke="#42a552" stroke-width="1" fill="none"/>
<path d="M224.1 324V329.3M222.1 324H226.1M222.1 329.3H226.1" stroke="#42a552" stroke-width="1" fill="none"/>
<path d="M254.26 322.5V330.4M252.26 322.5H256.26M252.26 330.4H256.26" stroke="#42a552" stroke-width="1" fill="none"/>
<path d="M284.42 317.5V325.1M282.42 317.5H286.42M282.42 325.1H286.42" stroke="#42a552" stroke-width="1" fill="none"/>
<path d="M314.58 321.4V327.2M312.58 321.4H316.58M312.58 327.2H316.58" stroke="#42a552" stroke-width="1" fill="none"/>
<path d="M344.74 322.8V329.6M342.74 322.8H346.74M342.74 329.6H346.74" stroke="#42a552" stroke-width="1" fill="none"/>
<path d="M374.9 318.5V328.6M372.9 318.5H376.9M372.9 328.6H376.9" stroke="#42a552" stroke-width="1" fill="none"/>
<path d="M405.06 314.8V323.3M403.06 314.8H407.06M403.06 323.3H407.06" stroke="#42a552" stroke-width="1" fill="none"/>
<path d="M435.22 313.8V335M433.22 313.8H437.22M433.22 335H437.22" stroke="#42a552" stroke-width="1" fill="none"/>
<path d="M465.38 326.9V343.5M463.38 326.9H467.38M463.38 343.5H467.38" stroke="#42a552" stroke-width="1" fill="none"/>
<path d="M495.54 333.7V358M493.54 333.7H497.54M493.54 358H497.54" stroke="#42a552" stroke-width="1" fill="none"/>
<path d="M67.2 328.3 L97.36 327 L127.52 331.3 L157.68 327.3 L187.84 329.3 L218 325.1 L248.16 324 L278.32 320.7 L308.48 323.2 L338.64 321.7 L368.8 318.5 L398.96 312.1 L429.12 297.5 L459.28 342.4 L489.44 358" stroke="#bd1a3e" stroke-width="1.0" fill="none" stroke-linejoin="round"/>
<path d="M70.3 328.3 L100.46 328.5 L130.62 320.8 L160.78 322.2 L190.94 329 L221.1 329.3 L251.26 329.9 L281.42 323.2 L311.58 327.2 L341.74 332.5 L371.9 330.7 L402.06 326.6 L432.22 332.5 L462.38 327.7 L492.54 338" stroke="#234f80" stroke-width="1.0" fill="none" stroke-linejoin="round"/>
<path d="M73.3 328.3 L103.46 327.5 L133.62 327 L163.78 323.8 L193.94 328.5 L224.1 326.7 L254.26 326.2 L284.42 321.4 L314.58 324.6 L344.74 326.2 L374.9 324.1 L405.06 318.8 L435.22 324.4 L465.38 334.8 L495.54 345.6" stroke="#42a552" stroke-width="1.0" fill="none" stroke-linejoin="round"/>
<circle cx="67.2" cy="328.3" r="1.65" fill="#8c0f20"/>
<circle cx="97.36" cy="327" r="1.65" fill="#8c0f20"/>
<circle cx="127.52" cy="331.3" r="1.65" fill="#8c0f20"/>
<circle cx="157.68" cy="327.3" r="1.65" fill="#8c0f20"/>
<circle cx="187.84" cy="329.3" r="1.65" fill="#8c0f20"/>
<circle cx="218" cy="325.1" r="1.65" fill="#8c0f20"/>
<circle cx="248.16" cy="324" r="1.65" fill="#8c0f20"/>
<circle cx="278.32" cy="320.7" r="1.65" fill="#8c0f20"/>
<circle cx="308.48" cy="323.2" r="1.65" fill="#8c0f20"/>
<circle cx="338.64" cy="321.7" r="1.65" fill="#8c0f20"/>
<circle cx="368.8" cy="318.5" r="1.65" fill="#8c0f20"/>
<circle cx="398.96" cy="312.1" r="1.65" fill="#8c0f20"/>
<circle cx="429.12" cy="297.5" r="1.65" fill="#8c0f20"/>
<circle cx="459.28" cy="342.4" r="1.65" fill="#8c0f20"/>
<circle cx="489.44" cy="358" r="1.65" fill="#8c0f20"/>
<path d="M70.3 326.6L71.9 329.4L68.7 329.4Z" fill="#0d2c52"/>
<path d="M100.46 326.8L102.06 329.6L98.86 329.6Z" fill="#0d2c52"/>
<path d="M130.62 319.1L132.22 321.9L129.02 321.9Z" fill="#0d2c52"/>
<path d="M160.78 320.5L162.38 323.3L159.18 323.3Z" fill="#0d2c52"/>
<path d="M190.94 327.3L192.54 330.1L189.34 330.1Z" fill="#0d2c52"/>
<path d="M221.1 327.6L222.7 330.4L219.5 330.4Z" fill="#0d2c52"/>
<path d="M251.26 328.2L252.86 331L249.66 331Z" fill="#0d2c52"/>
<path d="M281.42 321.5L283.02 324.3L279.82 324.3Z" fill="#0d2c52"/>
<path d="M311.58 325.5L313.18 328.3L309.98 328.3Z" fill="#0d2c52"/>
<path d="M341.74 330.8L343.34 333.6L340.14 333.6Z" fill="#0d2c52"/>
<path d="M371.9 329L373.5 331.8L370.3 331.8Z" fill="#0d2c52"/>
<path d="M402.06 324.9L403.66 327.7L400.46 327.7Z" fill="#0d2c52"/>
<path d="M432.22 330.8L433.82 333.6L430.62 333.6Z" fill="#0d2c52"/>
<path d="M462.38 326L463.98 328.8L460.78 328.8Z" fill="#0d2c52"/>
<path d="M492.54 336.3L494.14 339.1L490.94 339.1Z" fill="#0d2c52"/>
<circle cx="73.3" cy="328.3" r="1.35" fill="#1e7a2c"/>
<circle cx="103.46" cy="327.5" r="1.35" fill="#1e7a2c"/>
<circle cx="133.62" cy="327" r="1.35" fill="#1e7a2c"/>
<circle cx="163.78" cy="323.8" r="1.35" fill="#1e7a2c"/>
<circle cx="193.94" cy="328.5" r="1.35" fill="#1e7a2c"/>
<circle cx="224.1" cy="326.7" r="1.35" fill="#1e7a2c"/>
<circle cx="254.26" cy="326.2" r="1.35" fill="#1e7a2c"/>
<circle cx="284.42" cy="321.4" r="1.35" fill="#1e7a2c"/>
<circle cx="314.58" cy="324.6" r="1.35" fill="#1e7a2c"/>
<circle cx="344.74" cy="326.2" r="1.35" fill="#1e7a2c"/>
<circle cx="374.9" cy="324.1" r="1.35" fill="#1e7a2c"/>
<circle cx="405.06" cy="318.8" r="1.35" fill="#1e7a2c"/>
<circle cx="435.22" cy="324.4" r="1.35" fill="#1e7a2c"/>
<circle cx="465.38" cy="334.8" r="1.35" fill="#1e7a2c"/>
<circle cx="495.54" cy="345.6" r="1.35" fill="#1e7a2c"/>
<text x="7" y="430" font-size="7.3" fill="#222" stroke="#222" stroke-width="0.12" font-family="'Liberation Sans', sans-serif"><tspan font-weight="bold">#</tspan>&#160;of Patients</text>
<text x="47.5" y="441.8" font-size="7.4" text-anchor="end" fill="#cc3456" font-family="'Liberation Sans', sans-serif">&lt;70 yrs</text>
<text x="67.2" y="441.8" font-size="7.9" text-anchor="middle" fill="#cc3456" stroke="#cc3456" stroke-width="0.08" font-family="'Liberation Sans', sans-serif">79</text>
<text x="97.36" y="441.8" font-size="7.9" text-anchor="middle" fill="#cc3456" stroke="#cc3456" stroke-width="0.08" font-family="'Liberation Sans', sans-serif">65</text>
<text x="127.52" y="441.8" font-size="7.9" text-anchor="middle" fill="#cc3456" stroke="#cc3456" stroke-width="0.08" font-family="'Liberation Sans', sans-serif">48</text>
<text x="157.68" y="441.8" font-size="7.9" text-anchor="middle" fill="#cc3456" stroke="#cc3456" stroke-width="0.08" font-family="'Liberation Sans', sans-serif">38</text>
<text x="187.84" y="441.8" font-size="7.9" text-anchor="middle" fill="#cc3456" stroke="#cc3456" stroke-width="0.08" font-family="'Liberation Sans', sans-serif">26</text>
<text x="218" y="441.8" font-size="7.9" text-anchor="middle" fill="#cc3456" stroke="#cc3456" stroke-width="0.08" font-family="'Liberation Sans', sans-serif">19</text>
<text x="248.16" y="441.8" font-size="7.9" text-anchor="middle" fill="#cc3456" stroke="#cc3456" stroke-width="0.08" font-family="'Liberation Sans', sans-serif">17</text>
<text x="278.32" y="441.8" font-size="7.9" text-anchor="middle" fill="#cc3456" stroke="#cc3456" stroke-width="0.08" font-family="'Liberation Sans', sans-serif">14</text>
<text x="308.48" y="441.8" font-size="7.9" text-anchor="middle" fill="#cc3456" stroke="#cc3456" stroke-width="0.08" font-family="'Liberation Sans', sans-serif">10</text>
<text x="338.64" y="441.8" font-size="7.9" text-anchor="middle" fill="#cc3456" stroke="#cc3456" stroke-width="0.08" font-family="'Liberation Sans', sans-serif">7</text>
<text x="368.8" y="441.8" font-size="7.9" text-anchor="middle" fill="#cc3456" stroke="#cc3456" stroke-width="0.08" font-family="'Liberation Sans', sans-serif">6</text>
<text x="398.96" y="441.8" font-size="7.9" text-anchor="middle" fill="#cc3456" stroke="#cc3456" stroke-width="0.08" font-family="'Liberation Sans', sans-serif">5</text>
<text x="429.12" y="441.8" font-size="7.9" text-anchor="middle" fill="#cc3456" stroke="#cc3456" stroke-width="0.08" font-family="'Liberation Sans', sans-serif">2</text>
<text x="459.28" y="441.8" font-size="7.9" text-anchor="middle" fill="#cc3456" stroke="#cc3456" stroke-width="0.08" font-family="'Liberation Sans', sans-serif">2</text>
<text x="489.44" y="441.8" font-size="7.9" text-anchor="middle" fill="#cc3456" stroke="#cc3456" stroke-width="0.08" font-family="'Liberation Sans', sans-serif">2</text>
<text x="47.5" y="453.2" font-size="7.4" text-anchor="end" fill="#34507e" font-family="'Liberation Sans', sans-serif">≥70 yrs</text>
<text x="67.2" y="453.2" font-size="7.9" text-anchor="middle" fill="#34507e" stroke="#34507e" stroke-width="0.08" font-family="'Liberation Sans', sans-serif">46</text>
<text x="97.36" y="453.2" font-size="7.9" text-anchor="middle" fill="#34507e" stroke="#34507e" stroke-width="0.08" font-family="'Liberation Sans', sans-serif">41</text>
<text x="127.52" y="453.2" font-size="7.9" text-anchor="middle" fill="#34507e" stroke="#34507e" stroke-width="0.08" font-family="'Liberation Sans', sans-serif">26</text>
<text x="157.68" y="453.2" font-size="7.9" text-anchor="middle" fill="#34507e" stroke="#34507e" stroke-width="0.08" font-family="'Liberation Sans', sans-serif">21</text>
<text x="187.84" y="453.2" font-size="7.9" text-anchor="middle" fill="#34507e" stroke="#34507e" stroke-width="0.08" font-family="'Liberation Sans', sans-serif">17</text>
<text x="218" y="453.2" font-size="7.9" text-anchor="middle" fill="#34507e" stroke="#34507e" stroke-width="0.08" font-family="'Liberation Sans', sans-serif">14</text>
<text x="248.16" y="453.2" font-size="7.9" text-anchor="middle" fill="#34507e" stroke="#34507e" stroke-width="0.08" font-family="'Liberation Sans', sans-serif">11</text>
<text x="278.32" y="453.2" font-size="7.9" text-anchor="middle" fill="#34507e" stroke="#34507e" stroke-width="0.08" font-family="'Liberation Sans', sans-serif">8</text>
<text x="308.48" y="453.2" font-size="7.9" text-anchor="middle" fill="#34507e" stroke="#34507e" stroke-width="0.08" font-family="'Liberation Sans', sans-serif">10</text>
<text x="338.64" y="453.2" font-size="7.9" text-anchor="middle" fill="#34507e" stroke="#34507e" stroke-width="0.08" font-family="'Liberation Sans', sans-serif">6</text>
<text x="368.8" y="453.2" font-size="7.9" text-anchor="middle" fill="#34507e" stroke="#34507e" stroke-width="0.08" font-family="'Liberation Sans', sans-serif">6</text>
<text x="398.96" y="453.2" font-size="7.9" text-anchor="middle" fill="#34507e" stroke="#34507e" stroke-width="0.08" font-family="'Liberation Sans', sans-serif">5</text>
<text x="429.12" y="453.2" font-size="7.9" text-anchor="middle" fill="#34507e" stroke="#34507e" stroke-width="0.08" font-family="'Liberation Sans', sans-serif">7</text>
<text x="459.28" y="453.2" font-size="7.9" text-anchor="middle" fill="#34507e" stroke="#34507e" stroke-width="0.08" font-family="'Liberation Sans', sans-serif">2</text>
<text x="489.44" y="453.2" font-size="7.9" text-anchor="middle" fill="#34507e" stroke="#34507e" stroke-width="0.08" font-family="'Liberation Sans', sans-serif">3</text>
<text x="47.5" y="464.6" font-size="7.4" text-anchor="end" fill="#68b65a" font-family="'Liberation Sans', sans-serif">Overall</text>
<text x="67.2" y="464.6" font-size="7.9" text-anchor="middle" fill="#68b65a" stroke="#68b65a" stroke-width="0.08" font-family="'Liberation Sans', sans-serif">125</text>
<text x="97.36" y="464.6" font-size="7.9" text-anchor="middle" fill="#68b65a" stroke="#68b65a" stroke-width="0.08" font-family="'Liberation Sans', sans-serif">106</text>
<text x="127.52" y="464.6" font-size="7.9" text-anchor="middle" fill="#68b65a" stroke="#68b65a" stroke-width="0.08" font-family="'Liberation Sans', sans-serif">74</text>
<text x="157.68" y="464.6" font-size="7.9" text-anchor="middle" fill="#68b65a" stroke="#68b65a" stroke-width="0.08" font-family="'Liberation Sans', sans-serif">59</text>
<text x="187.84" y="464.6" font-size="7.9" text-anchor="middle" fill="#68b65a" stroke="#68b65a" stroke-width="0.08" font-family="'Liberation Sans', sans-serif">43</text>
<text x="218" y="464.6" font-size="7.9" text-anchor="middle" fill="#68b65a" stroke="#68b65a" stroke-width="0.08" font-family="'Liberation Sans', sans-serif">33</text>
<text x="248.16" y="464.6" font-size="7.9" text-anchor="middle" fill="#68b65a" stroke="#68b65a" stroke-width="0.08" font-family="'Liberation Sans', sans-serif">28</text>
<text x="278.32" y="464.6" font-size="7.9" text-anchor="middle" fill="#68b65a" stroke="#68b65a" stroke-width="0.08" font-family="'Liberation Sans', sans-serif">22</text>
<text x="308.48" y="464.6" font-size="7.9" text-anchor="middle" fill="#68b65a" stroke="#68b65a" stroke-width="0.08" font-family="'Liberation Sans', sans-serif">20</text>
<text x="338.64" y="464.6" font-size="7.9" text-anchor="middle" fill="#68b65a" stroke="#68b65a" stroke-width="0.08" font-family="'Liberation Sans', sans-serif">13</text>
<text x="368.8" y="464.6" font-size="7.9" text-anchor="middle" fill="#68b65a" stroke="#68b65a" stroke-width="0.08" font-family="'Liberation Sans', sans-serif">12</text>
<text x="398.96" y="464.6" font-size="7.9" text-anchor="middle" fill="#68b65a" stroke="#68b65a" stroke-width="0.08" font-family="'Liberation Sans', sans-serif">10</text>
<text x="429.12" y="464.6" font-size="7.9" text-anchor="middle" fill="#68b65a" stroke="#68b65a" stroke-width="0.08" font-family="'Liberation Sans', sans-serif">9</text>
<text x="459.28" y="464.6" font-size="7.9" text-anchor="middle" fill="#68b65a" stroke="#68b65a" stroke-width="0.08" font-family="'Liberation Sans', sans-serif">4</text>
<text x="489.44" y="464.6" font-size="7.9" text-anchor="middle" fill="#68b65a" stroke="#68b65a" stroke-width="0.08" font-family="'Liberation Sans', sans-serif">5</text>
<rect x="0.5" y="0.5" width="519" height="471" fill="none" stroke="#6a6a6a" stroke-width="1"/>
</svg>
</body></html>
